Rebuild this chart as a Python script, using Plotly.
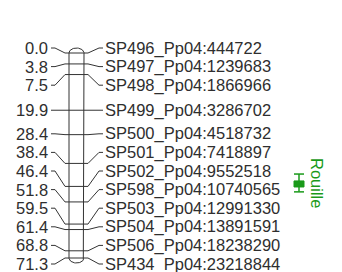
import numpy as np
import plotly.graph_objects as go

# ---------------- data ----------------
positions_cm = [0.0, 3.8, 7.5, 19.9, 28.4, 38.4, 46.4, 51.8, 59.5, 61.4, 68.8, 71.3]
position_labels = ["0.0", "3.8", "7.5", "19.9", "28.4", "38.4", "46.4", "51.8", "59.5", "61.4", "68.8", "71.3"]
marker_names = ["SP496_Pp04:444722", "SP497_Pp04:1239683", "SP498_Pp04:1866966",
                "SP499_Pp04:3286702", "SP500_Pp04:4518732", "SP501_Pp04:7418897",
                "SP502_Pp04:9552518", "SP598_Pp04:10740565", "SP503_Pp04:12991330",
                "SP504_Pp04:13891591", "SP506_Pp04:18238290", "SP434_Pp04:23218844"]
qtl_name = "Rouille"
qtl_outer = [42.1, 48.3]
qtl_inner = [44.5, 46.6]

# ---------------- layout ----------------
OFF = 8                      # page body margin of the html
W, H = 342 - OFF, 272 - OFF  # figure size so it fits the window
top_px, bottom_px = 53, 258  # screen pixels of first / last marker
cm_min, cm_max = min(positions_cm), max(positions_cm)
scale = (bottom_px - top_px) / (cm_max - cm_min)  # px per cM
y_top = cm_min - (top_px - OFF) / scale
y_bot = y_top + H / scale
px = 1.0 / scale  # one pixel in cM

chr_x0, chr_x1 = 69, 84
ink = "#333333"
txt = "#2e2e2e"
green = "#1a9a1a"
FONT = "Liberation Sans, Arial, sans-serif"
fs = 16.5

# label spreading (cluster centering with bounds)
def spread(vals, gap, lo, hi):
    clusters = [[i] for i in range(len(vals))]
    def top_of(c):
        n = len(c)
        t = np.mean([vals[i] for i in c]) - (n - 1) * gap / 2
        t = max(t, lo)
        t = min(t, hi - (n - 1) * gap)
        return t
    while True:
        merged = False
        for k in range(len(clusters) - 1):
            a, b = clusters[k], clusters[k + 1]
            if top_of(a) + len(a) * gap > top_of(b):
                clusters[k] = a + b
                del clusters[k + 1]
                merged = True
                break
        if not merged:
            break
    out = [0.0] * len(vals)
    for c in clusters:
        t = top_of(c)
        for j, i in enumerate(c):
            out[i] = t + j * gap
    return out

label_y = spread(positions_cm, 18.6 * px, cm_min - 5 * px, cm_max + 6 * px)

fig = go.Figure()

# chromosome body with rounded caps
cap = 5 * px
cx = (chr_x0 + chr_x1) / 2
rx = (chr_x1 - chr_x0) / 2
t = np.linspace(np.pi, 0, 30)
top_x = cx + rx * np.cos(t)
top_y = cm_min - cap * np.sin(t)
t2 = np.linspace(0, -np.pi, 30)
bot_x = cx + rx * np.cos(t2)
bot_y = cm_max - cap * np.sin(t2)
xs = list(top_x) + [chr_x1] + list(bot_x) + [chr_x0, top_x[0]]
ys = list(top_y) + [cm_max] + list(bot_y) + [cm_min, top_y[0]]
fig.add_trace(go.Scatter(x=xs, y=ys, mode="lines", line=dict(color=ink, width=1),
                         fill="toself", fillcolor="white", hoverinfo="skip"))

# marker ticks and connectors
for cm, ly in zip(positions_cm, label_y):
    fig.add_trace(go.Scatter(x=[chr_x0, chr_x1], y=[cm, cm], mode="lines",
                             line=dict(color=ink, width=1), hoverinfo="skip"))
    fig.add_trace(go.Scatter(x=[51, 55, 65, chr_x0], y=[ly, ly, cm, cm], mode="lines",
                             line=dict(color=ink, width=1), hoverinfo="skip"))
    fig.add_trace(go.Scatter(x=[chr_x1, 88, 99, 103], y=[cm, cm, ly, ly], mode="lines",
                             line=dict(color=ink, width=1), hoverinfo="skip"))

annotations = []
for lab, name, ly in zip(position_labels, marker_names, label_y):
    annotations.append(dict(x=48.5, y=ly, text=lab, xanchor="right", yanchor="middle",
                            showarrow=False, borderpad=0,
                            font=dict(family=FONT, size=fs, color=txt)))
    annotations.append(dict(x=103.5, y=ly, text=name, xanchor="left", yanchor="middle",
                            showarrow=False, borderpad=0,
                            font=dict(family=FONT, size=fs, color=txt)))

# QTL
qx0, qx1 = 294, 304
qc = (qx0 + qx1) / 2
fig.add_trace(go.Scatter(x=[qc, qc], y=qtl_outer, mode="lines",
                         line=dict(color=green, width=1.5), hoverinfo="skip"))
for yy in qtl_outer:
    fig.add_trace(go.Scatter(x=[qx0, qx1], y=[yy, yy], mode="lines",
                             line=dict(color=green, width=1.5), hoverinfo="skip"))
fig.add_trace(go.Scatter(x=[qx0, qx1, qx1, qx0, qx0],
                         y=[qtl_inner[0], qtl_inner[0], qtl_inner[1], qtl_inner[1], qtl_inner[0]],
                         mode="lines", fill="toself", fillcolor=green,
                         line=dict(color=green, width=1), hoverinfo="skip"))
annotations.append(dict(x=317, y=sum(qtl_outer) / 2, text=qtl_name, textangle=90,
                        xanchor="center", yanchor="middle", showarrow=False,
                        font=dict(family=FONT, size=fs, color=green)))

fig.update_layout(
    width=W, height=H, margin=dict(l=0, r=0, t=0, b=0),
    paper_bgcolor="white", plot_bgcolor="white", showlegend=False,
    xaxis=dict(range=[OFF, OFF + W], visible=False, fixedrange=True),
    yaxis=dict(range=[y_bot, y_top], visible=False, fixedrange=True),
    annotations=annotations,
)
fig.write_html("out.html", config={"displayModeBar": False})
